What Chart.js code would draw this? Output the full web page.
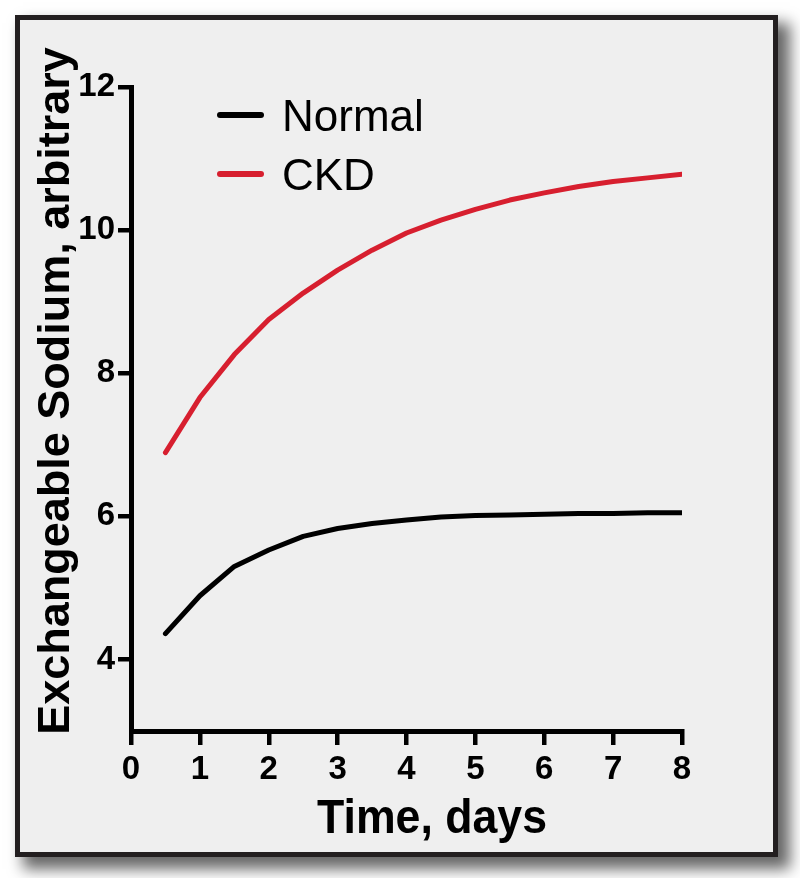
<!DOCTYPE html>
<html>
<head>
<meta charset="utf-8">
<script src="https://cdn.jsdelivr.net/npm/chart.js@4.4.1/dist/chart.umd.min.js"></script>
<style>
  html, body { margin: 0; padding: 0; background: #ffffff; }
  body { width: 800px; height: 878px; position: relative; overflow: hidden; }
  #frame {
    position: absolute; left: 15px; top: 15px; width: 763px; height: 842px;
    box-sizing: border-box; border: 5px solid #231f20; background: #efefef;
    box-shadow: 10px 10px 14px 2px rgba(0,0,0,0.6);
  }
  #wrap { position: absolute; left: 0; top: 0; width: 800px; height: 878px; }
</style>
</head>
<body>
<div id="frame"></div>
<div id="wrap"><canvas id="chart" width="800" height="878"></canvas></div>
<script>
// data
const days = [0.5, 1, 1.5, 2, 2.5, 3, 3.5, 4, 4.5, 5, 5.5, 6, 6.5, 7, 7.5, 8];
const normalValues = [4.36, 4.89, 5.30, 5.53, 5.72, 5.83, 5.90, 5.95, 5.99, 6.01, 6.02, 6.03, 6.04, 6.04, 6.05, 6.05];
const ckdValues = [6.89, 7.66, 8.26, 8.75, 9.12, 9.44, 9.72, 9.96, 10.14, 10.29, 10.42, 10.52, 10.61, 10.68, 10.73, 10.78];
const xTicks = [0, 1, 2, 3, 4, 5, 6, 7, 8];
const yTicks = [4, 6, 8, 10, 12];
const seriesNames = ['Normal', 'CKD'];
const seriesColors = ['#000000', '#d71f2f'];
const xTitle = 'Time, days';
const yTitle = 'Exchangeable Sodium, arbitrary';

const FONT = "'Liberation Sans', Arial, Helvetica, sans-serif";
const tickFont = { family: FONT, size: 33, weight: 'bold' };

const toPoints = (vals) => days.map((d, i) => ({ x: d, y: vals[i] }));

// axis titles + legend drawn by hand (positions match the figure)
const decorations = {
  id: 'decorations',
  afterDraw(chart) {
    const c = chart.ctx;
    c.save();
    c.fillStyle = '#000';
    c.textAlign = 'center';
    c.textBaseline = 'alphabetic';

    // x title, slightly condensed like the original
    c.save();
    c.translate(432, 833);
    c.scale(0.93, 1);
    c.font = `bold 48px ${FONT}`;
    c.fillText(xTitle, 0, 0);
    c.restore();

    c.save();
    c.translate(69, 391);
    c.rotate(-Math.PI / 2);
    c.font = `bold 45px ${FONT}`;
    c.fillText(yTitle, 0, 0);
    c.restore();

    // legend
    c.lineCap = 'round';
    c.lineWidth = 6;
    c.textAlign = 'left';
    c.font = `44px ${FONT}`;
    chart.data.datasets.forEach((ds, i) => {
      const y = 115 + i * 59;
      c.strokeStyle = ds.borderColor;
      c.beginPath();
      c.moveTo(220, y);
      c.lineTo(261, y);
      c.stroke();
      c.fillStyle = '#000';
      c.fillText(ds.label, 282, y + 16);
    });
    c.restore();
  }
};

const ctx = document.getElementById('chart');
new Chart(ctx, {
  type: 'line',
  data: {
    datasets: seriesNames.map((name, i) => ({
      label: name,
      data: toPoints(i === 0 ? normalValues : ckdValues),
      borderColor: seriesColors[i],
      borderWidth: 5,
      borderCapStyle: 'round',
      borderJoinStyle: 'round',
      pointRadius: 0,
      tension: 0,
      fill: false
    }))
  },
  options: {
    responsive: false,
    animation: false,
    events: [],
    layout: { padding: { left: 0, right: 118, top: 87, bottom: 0 } },
    plugins: { legend: { display: false }, tooltip: { enabled: false } },
    scales: {
      x: {
        type: 'linear',
        min: 0, max: 8,
        afterFit: (s) => { s.height = 147; },
        afterBuildTicks: (s) => { s.ticks = xTicks.map(v => ({ value: v })); },
        grid: { drawOnChartArea: false, drawTicks: true, tickLength: 14, lineWidth: 4.5, color: '#000' },
        border: { display: true, width: 5, color: '#000' },
        ticks: { color: '#000', font: tickFont, padding: 5, maxRotation: 0 }
      },
      y: {
        type: 'linear',
        min: 3, max: 12,
        afterFit: (s) => { s.width = 131; },
        afterBuildTicks: (s) => { s.ticks = yTicks.map(v => ({ value: v })); },
        grid: { drawOnChartArea: false, drawTicks: true, tickLength: 13, lineWidth: 4.5, color: '#000' },
        border: { display: true, width: 5, color: '#000' },
        ticks: { color: '#000', font: tickFont, padding: 3 }
      }
    }
  },
  plugins: [decorations]
});
</script>
</body>
</html>
